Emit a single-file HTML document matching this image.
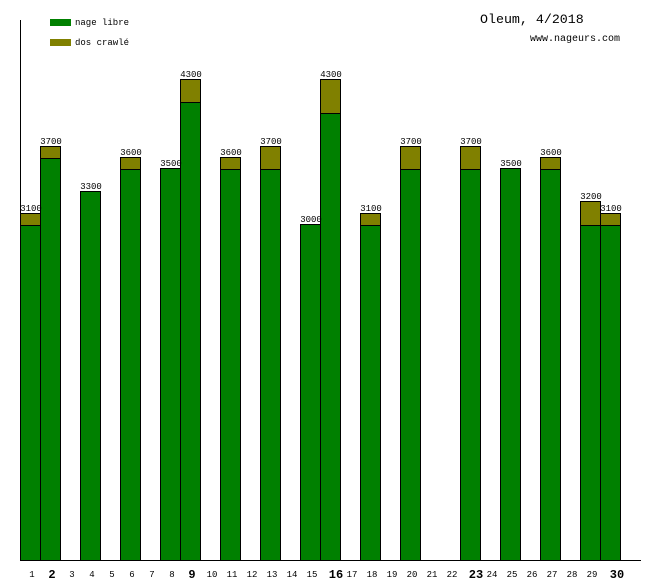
<!DOCTYPE html>
<html><head><meta charset="utf-8"><style>
html,body{margin:0;padding:0;background:#fff;}
svg{display:block;font-family:"Liberation Mono","DejaVu Sans Mono",monospace;}
</style></head><body>
<svg width="660" height="580" viewBox="0 0 660 580" xmlns="http://www.w3.org/2000/svg">
<rect width="660" height="580" fill="#fff"/>
<line x1="20.5" y1="20" x2="20.5" y2="560" stroke="#000"/>
<line x1="20" y1="560.5" x2="641" y2="560.5" stroke="#000"/>
<rect x="50" y="19" width="21" height="7" fill="#008000"/>
<text x="75" y="25" font-size="9" fill="#000">nage libre</text>
<rect x="50" y="39" width="21" height="7" fill="#808000"/>
<text x="75" y="45" font-size="9" fill="#000">dos crawlé</text>
<text x="480" y="23" font-size="13.3" fill="#000">Oleum, 4/2018</text>
<text x="530" y="41" font-size="10" fill="#000">www.nageurs.com</text>
<g stroke="#000" stroke-width="1">
<rect x="20.5" y="213.5" width="20" height="347" fill="#808000"/><rect x="20.5" y="225.5" width="20" height="335" fill="#008000"/>
<rect x="40.5" y="146.5" width="20" height="414" fill="#808000"/><rect x="40.5" y="158.5" width="20" height="402" fill="#008000"/>
<rect x="80.5" y="191.5" width="20" height="369" fill="#008000"/>
<rect x="120.5" y="157.5" width="20" height="403" fill="#808000"/><rect x="120.5" y="169.5" width="20" height="391" fill="#008000"/>
<rect x="160.5" y="168.5" width="20" height="392" fill="#008000"/>
<rect x="180.5" y="79.5" width="20" height="481" fill="#808000"/><rect x="180.5" y="102.5" width="20" height="458" fill="#008000"/>
<rect x="220.5" y="157.5" width="20" height="403" fill="#808000"/><rect x="220.5" y="169.5" width="20" height="391" fill="#008000"/>
<rect x="260.5" y="146.5" width="20" height="414" fill="#808000"/><rect x="260.5" y="169.5" width="20" height="391" fill="#008000"/>
<rect x="300.5" y="224.5" width="20" height="336" fill="#008000"/>
<rect x="320.5" y="79.5" width="20" height="481" fill="#808000"/><rect x="320.5" y="113.5" width="20" height="447" fill="#008000"/>
<rect x="360.5" y="213.5" width="20" height="347" fill="#808000"/><rect x="360.5" y="225.5" width="20" height="335" fill="#008000"/>
<rect x="400.5" y="146.5" width="20" height="414" fill="#808000"/><rect x="400.5" y="169.5" width="20" height="391" fill="#008000"/>
<rect x="460.5" y="146.5" width="20" height="414" fill="#808000"/><rect x="460.5" y="169.5" width="20" height="391" fill="#008000"/>
<rect x="500.5" y="168.5" width="20" height="392" fill="#008000"/>
<rect x="540.5" y="157.5" width="20" height="403" fill="#808000"/><rect x="540.5" y="169.5" width="20" height="391" fill="#008000"/>
<rect x="580.5" y="201.5" width="20" height="359" fill="#808000"/><rect x="580.5" y="225.5" width="20" height="335" fill="#008000"/>
<rect x="600.5" y="213.5" width="20" height="347" fill="#808000"/><rect x="600.5" y="225.5" width="20" height="335" fill="#008000"/>
</g>
<g font-size="9" text-anchor="middle" fill="#000">
<text x="31" y="211">3100</text><text x="51" y="144">3700</text><text x="91" y="189">3300</text>
<text x="131" y="155">3600</text><text x="171" y="166">3500</text><text x="191" y="77">4300</text>
<text x="231" y="155">3600</text><text x="271" y="144">3700</text><text x="311" y="222">3000</text>
<text x="331" y="77">4300</text><text x="371" y="211">3100</text><text x="411" y="144">3700</text>
<text x="471" y="144">3700</text><text x="511" y="166">3500</text><text x="551" y="155">3600</text>
<text x="591" y="199">3200</text><text x="611" y="211">3100</text>
</g>
<g font-size="9" text-anchor="middle" fill="#000">
<text x="32" y="577">1</text><text x="72" y="577">3</text><text x="92" y="577">4</text><text x="112" y="577">5</text><text x="132" y="577">6</text><text x="152" y="577">7</text><text x="172" y="577">8</text>
<text x="212" y="577">10</text><text x="232" y="577">11</text><text x="252" y="577">12</text><text x="272" y="577">13</text><text x="292" y="577">14</text><text x="312" y="577">15</text>
<text x="352" y="577">17</text><text x="372" y="577">18</text><text x="392" y="577">19</text><text x="412" y="577">20</text><text x="432" y="577">21</text><text x="452" y="577">22</text>
<text x="492" y="577">24</text><text x="512" y="577">25</text><text x="532" y="577">26</text><text x="552" y="577">27</text><text x="572" y="577">28</text><text x="592" y="577">29</text>
</g>
<g font-size="12" font-weight="bold" text-anchor="middle" fill="#000">
<text x="52" y="578">2</text><text x="192" y="578">9</text><text x="336" y="578">16</text><text x="476" y="578">23</text><text x="617" y="578">30</text>
</g>
</svg>
</body></html>
